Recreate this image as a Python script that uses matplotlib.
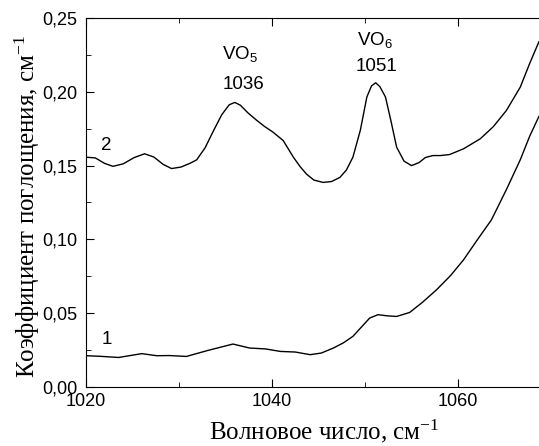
import matplotlib
matplotlib.use('Agg')
import matplotlib.pyplot as plt
from matplotlib.ticker import MultipleLocator, FuncFormatter

# Спектр 2 (верхняя кривая)
x2 = [1020.0, 1021.0, 1022.0, 1022.9, 1024.0, 1025.2, 1026.3, 1027.3, 1028.3, 1029.2,
      1030.2, 1031.2, 1031.9, 1032.8, 1033.7, 1034.6, 1035.4, 1036.0, 1036.6, 1037.4,
      1038.35, 1039.2, 1040.1, 1041.2, 1042.3, 1043.0, 1043.7, 1044.5, 1045.5, 1046.4,
      1047.3, 1048.0, 1048.7, 1049.5, 1050.2, 1050.7, 1051.15, 1051.6, 1052.2, 1052.8,
      1053.4, 1054.2, 1055.0, 1055.8, 1056.5, 1057.3, 1058.1, 1059.1, 1060.6, 1062.4,
      1063.8, 1065.2, 1066.7, 1067.7, 1068.7]
y2 = [0.1557, 0.1552, 0.1515, 0.1495, 0.1512, 0.1555, 0.1580, 0.1558, 0.1508, 0.1480,
      0.1490, 0.1516, 0.1539, 0.1620, 0.1735, 0.1845, 0.1912, 0.1928, 0.1909, 0.1858,
      0.1807, 0.1765, 0.1727, 0.1670, 0.1557, 0.1495, 0.1443, 0.1402, 0.1386, 0.1392,
      0.1420, 0.1470, 0.1557, 0.1740, 0.1965, 0.2040, 0.2061, 0.2035, 0.1965, 0.1800,
      0.1625, 0.1530, 0.1500, 0.1520, 0.1555, 0.1568, 0.1568, 0.1575, 0.1614, 0.1682,
      0.1764, 0.1873, 0.2032, 0.2191, 0.2339]

# Спектр 1 (нижняя кривая)
x1 = [1020.0, 1021.5, 1023.5, 1026.0, 1027.6, 1029.0, 1030.8, 1033.0, 1035.8, 1037.6,
      1039.3, 1040.9, 1042.5, 1044.1, 1045.3, 1046.6, 1047.7, 1048.7, 1049.6, 1050.5,
      1051.4, 1052.4, 1053.4, 1054.8, 1056.2, 1057.7, 1059.2, 1060.6, 1062.0, 1063.6,
      1065.2, 1066.7, 1067.7, 1068.7]
y1 = [0.0212, 0.0208, 0.0200, 0.0226, 0.0212, 0.0213, 0.0207, 0.0246, 0.0291, 0.0264,
      0.0258, 0.0241, 0.0237, 0.0219, 0.0230, 0.0264, 0.0300, 0.0343, 0.0405, 0.0467,
      0.0490, 0.0482, 0.0478, 0.0505, 0.0575, 0.0659, 0.0755, 0.0862, 0.0990, 0.1133,
      0.1337, 0.1540, 0.1698, 0.1833]

# Подписи полос
band_names = ['VO$_5$', 'VO$_6$']
band_pos = [1036, 1051]

plt.rcParams['font.family'] = 'Liberation Sans'
plt.rcParams['mathtext.default'] = 'regular'

fig = plt.figure(figsize=(5.39, 4.46), dpi=100)
ax = fig.add_axes([86 / 539, 1 - 387 / 446, 465 / 539, 369 / 446])

ax.plot(x2, y2, color='black', linewidth=1.0)
ax.plot(x1, y1, color='black', linewidth=1.0)

ax.set_xlim(1020, 1070)
ax.set_ylim(0, 0.25)

ax.xaxis.set_major_locator(MultipleLocator(20))
ax.xaxis.set_minor_locator(MultipleLocator(10))
ax.yaxis.set_major_locator(MultipleLocator(0.05))
ax.yaxis.set_minor_locator(MultipleLocator(0.025))
ax.yaxis.set_major_formatter(FuncFormatter(lambda v, p: f'{v:.2f}'.replace('.', ',')))
ax.tick_params(which='both', direction='in', top=True, right=False, labelsize=13)
ax.tick_params(which='major', length=6)
ax.tick_params(which='minor', length=3.5)
ax.tick_params(axis='x', which='major', pad=4)
ax.tick_params(axis='y', which='major', pad=6)
ax.spines['right'].set_visible(False)

# Аннотации
ax.text(band_pos[0] + 0.6, 0.2258, band_names[0], ha='center', va='center', fontsize=13.5)
ax.text(band_pos[0] + 0.9, 0.2048, str(band_pos[0]), ha='center', va='center', fontsize=13.5)
ax.text(band_pos[1] + 0.1, 0.2350, band_names[1], ha='center', va='center', fontsize=13.5)
ax.text(band_pos[1] + 0.2, 0.2170, str(band_pos[1]), ha='center', va='center', fontsize=13.5)
ax.text(1022.2, 0.1636, '2', ha='center', va='center', fontsize=13.5)
ax.text(1022.2, 0.0325, '1', ha='center', va='center', fontsize=13.5)

ax.set_xlabel('Волновое число, см$^{-1}$', family='Liberation Serif', fontsize=18)
ax.set_ylabel('Коэффициент поглощения, см$^{-1}$', family='Liberation Serif', fontsize=18)
ax.xaxis.set_label_coords(0.512, -0.084)
ax.yaxis.set_label_coords(-0.095, 0.49)

plt.savefig('out.png', dpi=100)
